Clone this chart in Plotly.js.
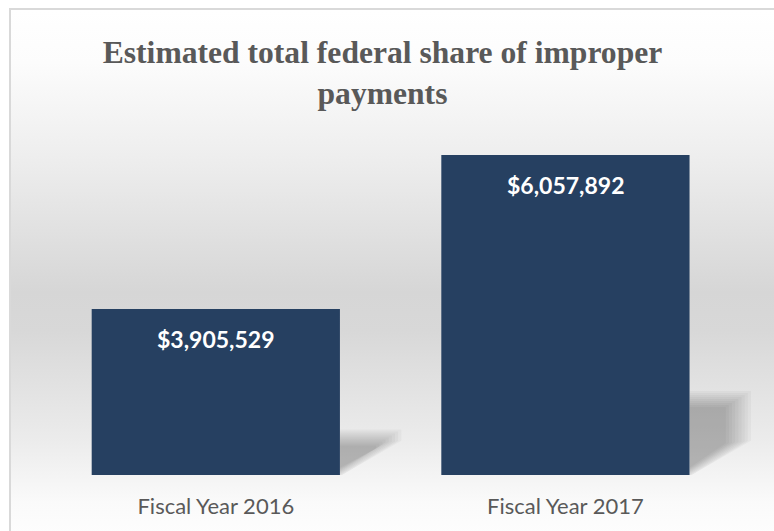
<!DOCTYPE html>
<html>
<head>
<meta charset="utf-8">
<script src="https://cdn.plot.ly/plotly-3.0.1.min.js"></script>
<style>
  html, body { margin: 0; padding: 0; background: #ffffff; }
  #wrap { position: relative; width: 774px; height: 531px; overflow: hidden; background: #ffffff; }
  #bg {
    position: absolute; left: 9px; top: 8px; width: 800px; height: 523px;
    border-left: 2px solid #d9d9d9; border-top: 2px solid #d9d9d9;
    background: linear-gradient(to bottom,
      #ffffff 0%, #fcfcfc 10%, #ededed 29%, #d6d6d6 54%, #d8d8d8 61.5%,
      #ececec 82.6%, #fafafa 94%, #fdfdfd 100%);
  }
  #chart { position: absolute; left: 0; top: 0; width: 774px; height: 531px; }
</style>
</head>
<body>
<div id="wrap">
  <div id="bg"></div>
  <div id="chart"></div>
</div>
<script>
// ---- data ----
const categories = ['Fiscal Year 2016', 'Fiscal Year 2017'];
const values = [3905529, 6057892];
const valueLabels = ['$3,905,529', '$6,057,892'];
const chartTitle = 'Estimated total federal share of improper<br>payments';

// ---- layout constants ----
const W = 774, H = 531;
const M = { l: 41, r: 23, t: 130, b: 56 };
const yRange = [1585447, 6407302];
const bargap = 0.29;
const plotH = H - M.t - M.b;
const plotW = W - M.l - M.r;
const unitsPerPxY = (yRange[1] - yRange[0]) / plotH;
const unitsPerPxX = categories.length / plotW;
const barColor = '#264061';

// soft perspective shadow to the right of each bar, built from stacked translucent layers
const shapes = [];
values.forEach((v, i) => {
  const halfW = (1 - bargap) / 2;
  const xr = i + halfW;
  const base = yRange[0];
  const barPx = (v - base) / unitsPerPxY;
  const shPx = barPx * 0.25;            // shadow height at bar edge (px)
  const shW = 56;                       // shadow length (px)
  for (let inset = -4; inset <= 12; inset += 2) {
    const topPx = shPx - inset;
    const wPx = shW - inset * 1.6;
    if (wPx <= 2 || topPx <= 2) continue;
    const rb = Math.min(topPx - 3, wPx * 0.6 + inset * 0.8);
    const x0 = xr, x1 = xr + wPx * unitsPerPxX;
    const yTop = base + topPx * unitsPerPxY;
    const yRB = base + Math.max(rb, 0) * unitsPerPxY;
    const yB = base + Math.max(inset, -2) * 0.6 * unitsPerPxY;
    shapes.push({
      type: 'path', xref: 'x', yref: 'y', layer: 'below',
      path: `M ${x0} ${yTop} L ${x1} ${yTop} L ${x1} ${yRB} L ${x0} ${yB} Z`,
      fillcolor: 'rgba(0,0,0,0.032)', line: { width: 0 }
    });
  }
});

const annotations = values.map((v, i) => ({
  x: categories[i], y: v, xref: 'x', yref: 'y',
  text: valueLabels[i], showarrow: false,
  yanchor: 'middle', yshift: -30,
  font: { family: 'Lato, "Open Sans", sans-serif', size: 23, color: '#ffffff', weight: 'bold' }
}));

const trace = {
  type: 'bar', x: categories, y: values,
  marker: { color: barColor, line: { width: 0 } },
  hoverinfo: 'none', cliponaxis: false
};

const layout = {
  width: W, height: H,
  margin: M,
  paper_bgcolor: 'rgba(0,0,0,0)',
  plot_bgcolor: 'rgba(0,0,0,0)',
  showlegend: false,
  bargap: bargap,
  title: {
    text: chartTitle,
    font: { family: '"Liberation Serif", "Times New Roman", serif', size: 31.6, color: '#595959', weight: 'bold' },
    x: 0.481, xanchor: 'center', xref: 'paper',
    y: 1 - 63 / H, yanchor: 'top', yref: 'container'
  },
  xaxis: {
    type: 'category', showgrid: false, zeroline: false, showline: false,
    ticks: 'outside', ticklen: 12, tickcolor: 'rgba(0,0,0,0)',
    tickfont: { family: 'Lato, "Open Sans", sans-serif', size: 22, color: '#595959' },
    fixedrange: true
  },
  yaxis: {
    range: yRange, visible: false, showgrid: false, zeroline: false, fixedrange: true
  },
  shapes: shapes,
  annotations: annotations
};

Plotly.newPlot('chart', [trace], layout, { displayModeBar: false, staticPlot: true });
</script>
</body>
</html>
